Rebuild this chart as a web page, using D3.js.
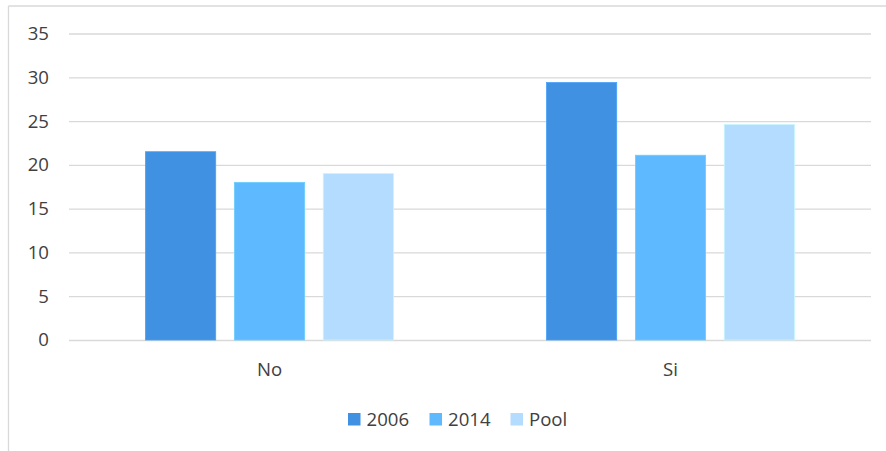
<!DOCTYPE html>
<html>
<head>
<meta charset="utf-8">
<script src="https://cdn.jsdelivr.net/npm/d3@7/dist/d3.min.js"></script>
<style>
  html, body { margin: 0; padding: 0; background: #fff; }
  svg { display: block; }
  text { font-family: "Open Sans", "Noto Sans", sans-serif; fill: #404040; }
</style>
</head>
<body>
<svg id="chart" width="886" height="451"></svg>
<script>
// Grouped bar chart: share by answer (No / Si) for 2006, 2014 and the pooled sample
const categories = ["No", "Si"];
const seriesNames = ["2006", "2014", "Pool"];
const values2006 = [21.5, 29.4];
const values2014 = [18.0, 21.1];
const valuesPool = [19.0, 24.6];
const yTicks = [0, 5, 10, 15, 20, 25, 30, 35];
const colors = ["#4091e1", "#5fb9ff", "#b3dcff"];

const seriesValues = [values2006, values2014, valuesPool];
const rows = categories.map((c, i) => ({
  category: c,
  bars: seriesNames.map((s, j) => ({ series: s, value: seriesValues[j][i], color: colors[j] }))
}));

const svg = d3.select("#chart");
const plot = { left: 69, right: 871, top: 33.5, bottom: 340 };
const fontSize = "18.6px";

// Frame lines along the top and left edge
svg.append("line").attr("x1", 8.5).attr("x2", 886).attr("y1", 6).attr("y2", 6)
  .attr("stroke", "#d9d9d9").attr("stroke-width", 1.3);
svg.append("line").attr("x1", 8.5).attr("x2", 8.5).attr("y1", 6).attr("y2", 451)
  .attr("stroke", "#d9d9d9").attr("stroke-width", 1.3);

const y = d3.scaleLinear().domain([0, 35]).range([plot.bottom, plot.top]);
const x0 = d3.scaleBand().domain(categories).range([plot.left, plot.right]).paddingInner(0).paddingOuter(0);
const groupPad = 76.5;
const x1 = d3.scaleBand().domain(seriesNames)
  .range([groupPad, x0.bandwidth() - groupPad]).paddingInner(0.21).paddingOuter(0);

// Horizontal gridlines with left-hand value labels
const yAxis = d3.axisLeft(y).tickValues(yTicks).tickSize(-(plot.right - plot.left)).tickPadding(20);
const gy = svg.append("g").attr("transform", `translate(${plot.left},0)`).call(yAxis);
gy.select(".domain").remove();
gy.selectAll(".tick line").attr("stroke", "#d9d9d9").attr("stroke-width", 1.3);
gy.selectAll(".tick text").style("font-size", fontSize).attr("fill", "#404040");

// Bars
const groups = svg.append("g").selectAll("g").data(rows).join("g")
  .attr("transform", d => `translate(${x0(d.category)},0)`);
groups.selectAll("rect").data(d => d.bars).join("rect")
  .attr("x", d => x1(d.series))
  .attr("width", x1.bandwidth())
  .attr("y", d => y(d.value))
  .attr("height", d => y(0) - y(d.value))
  .attr("fill", d => d.color)
  .attr("stroke", d => d3.color(d.color).brighter(0.3))
  .attr("stroke-width", 0.8);

// Category labels under the groups
const xAxis = d3.axisBottom(x0).tickSize(0).tickPadding(23);
const gx = svg.append("g").attr("transform", `translate(0,${plot.bottom})`).call(xAxis);
gx.select(".domain").remove();
gx.selectAll(".tick text").style("font-size", fontSize).attr("fill", "#404040");

// Legend
const legendX = [348, 429.5, 510.5];
const legend = svg.append("g").selectAll("g").data(seriesNames).join("g")
  .attr("transform", (d, i) => `translate(${legendX[i]},413)`);
legend.append("rect").attr("width", 12.5).attr("height", 12.5)
  .attr("fill", (d, i) => colors[i]);
legend.append("text").attr("x", 18.5).attr("y", 6.5).attr("dy", "0.35em")
  .style("font-size", fontSize).text(d => d);
</script>
</body>
</html>
